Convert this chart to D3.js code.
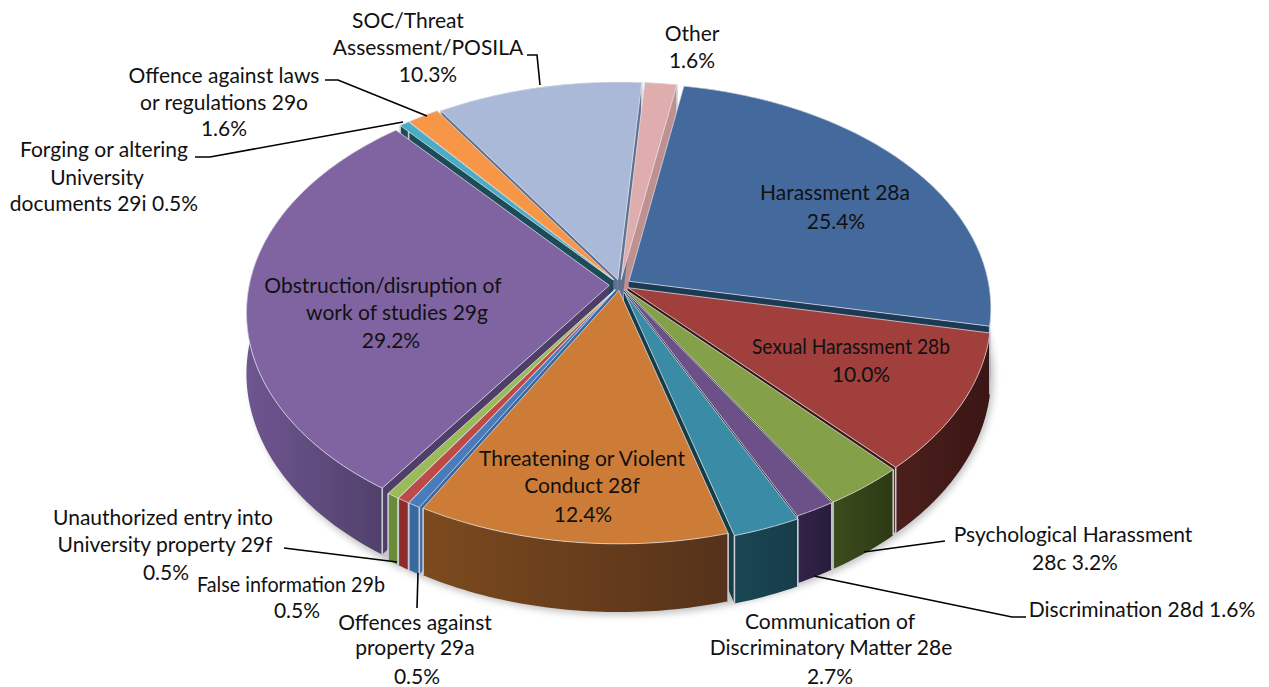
<!DOCTYPE html>
<html><head><meta charset="utf-8">
<script src="https://cdn.jsdelivr.net/npm/d3@7/dist/d3.min.js"></script>
<style>html,body{margin:0;background:#fff}svg{display:block}text{font-family:Lato,"Open Sans",sans-serif;font-size:21px;fill:#111;text-anchor:middle}</style>
</head><body><svg id="c" width="1269" height="687"></svg>
<script>
const categories=["Harassment 28a","Sexual Harassment 28b","Psychological Harassment 28c","Discrimination 28d","Communication of Discriminatory Matter 28e","Threatening or Violent Conduct 28f","Offences against property 29a","False information 29b","Unauthorized entry into University property 29f","Obstruction/disruption of work of studies 29g","Forging or altering University documents 29i","Offence against laws or regulations 29o","SOC/Threat Assessment/POSILA","Other"];
const values=[25.4,10.0,3.2,1.6,2.7,12.4,0.5,0.5,0.5,29.2,0.5,1.6,10.3,1.6];
const explodes=[0.03,0.025,0.025,0.025,0.035,0.025,0.025,0.025,0.025,0.03,0.03,0.03,0.025,0.025];
const topColors=["#44699c","#a03f3c","#84a049","#6c5088","#3a8ba6","#cc7c36","#4a7cbb","#bd4a48","#9bbb59","#8064a2","#4bacc6","#f79646","#aab9d8","#dfadad"];
const wallLeft=["#1c3a54","#4c1f1c","#3c4c1c","#32244a","#1a4654","#7c4a1e","#3a68a0","#8c2c2c","#6a8c38","#6e5690","#1c4c58","#a86428","#607090","#c09090"];
const wallRight=["#1c3a54","#3a1614","#2c3a14","#281c3a","#163c48","#55321a","#3a68a0","#8c2c2c","#6a8c38","#4e3e68","#1c4c58","#a86428","#607090","#c09090"];
const labelLines=[
["SOC/Threat",408,28],["Assessment/POSILA",428,55],["10.3%",428,82],
["Other",692,41],["1.6%",692,68],
["Harassment 28a",835,200],["25.4%",836,229],
["Sexual Harassment 28b",851,354,198],["10.0%",861,382],
["Psychological Harassment",1073,542],["28c 3.2%",1075,570],
["Discrimination 28d 1.6%",1142,617],
["Communication of",830,629],["Discriminatory Matter 28e",831,655],["2.7%",830,684],
["Offences against",415,630],["property 29a",415,655],["0.5%",417,684],
["False information 29b",291,592,188],["0.5%",297,618],
["Unauthorized entry into",163,525],["University property 29f",165,552],["0.5%",166,580],
["Threatening or Violent",582,466],["Conduct 28f",582,493],["12.4%",583,522],
["Obstruction/disruption of",383,293],["work of studies 29g",397,320],["29.2%",391,348],
["Forging or altering",104,157],["University",97,185],["documents 29i 0.5%",104,211],
["Offence against laws",224,83],["or regulations 29o",224,110],["1.6%",224,136]];
const leaders=[
[[527,55],[537,55],[540,85]],
[[325,80],[338,80],[427,116]],
[[195,157],[210,157],[403,122]],
[[284,548],[397,562]],
[[417,608],[418,573]],
[[945,541],[930,543],[864,552]],
[[1026,617],[1012,617],[814,576]]];

const svg=d3.select("#c"),defs=svg.append("defs");
const cx=620,cy=285,rx=360,ry=222,k=0.118,depth=60,startDeg=10;
const pie=d3.pie().sort(null).startAngle(startDeg*Math.PI/180).endAngle((startDeg+360)*Math.PI/180);
const arcs=pie(values);
function proj(X,Y,drop){const w=1/(1-k*Y);return [cx+rx*X*w,cy+ry*Y*w+(drop?depth*w:0)];}
function mk(d,i){const m=(d.startAngle+d.endAngle)/2,e=explodes[i],ox=e*Math.sin(m),oy=-e*Math.cos(m);
 const pt=(a,r,drop)=>proj(ox+r*Math.sin(a),oy-r*Math.cos(a),drop);
 const n=Math.max(4,Math.ceil((d.endAngle-d.startAngle)*60));
 const as=d3.range(n+1).map(j=>d.startAngle+(d.endAngle-d.startAngle)*j/n);
 return {m,oy,apex:pt(0,0,false),apexB:pt(0,0,true),top:as.map(a=>pt(a,1,false)),bot:as.map(a=>pt(a,1,true))};}
const line=d3.line();
const slices=arcs.map((d,i)=>Object.assign(mk(d,i),{i}));
const order=slices.slice().sort((a,b)=>(-Math.cos(a.m))-(-Math.cos(b.m)));

defs.append("filter").attr("id","blur").attr("x","-10%").attr("y","-10%").attr("width","120%").attr("height","120%")
 .append("feGaussianBlur").attr("stdDeviation",3.5);
const full=d3.range(0,361,3).map(a=>proj(Math.sin(a*Math.PI/180)*1.025,-Math.cos(a*Math.PI/180)*1.025,true));
svg.append("path").attr("d",line(full)+"Z").attr("fill","#999").attr("filter","url(#blur)").attr("opacity",.6).attr("transform","translate(2,3)");

slices.forEach(s=>{const g=defs.append("linearGradient").attr("id","w"+s.i).attr("gradientUnits","userSpaceOnUse")
 .attr("x1",d3.min(s.top,p=>p[0])).attr("x2",d3.max(s.top,p=>p[0])).attr("y1",0).attr("y2",0);
 g.append("stop").attr("offset",0).attr("stop-color",wallLeft[s.i]);
 g.append("stop").attr("offset",1).attr("stop-color",wallRight[s.i]);});

const walls=svg.append("g");
order.forEach(s=>{const w=walls.append("g");
 const a=s.top[0],b=s.bot[0],c=s.top[s.top.length-1],e=s.bot[s.bot.length-1];
 w.append("path").attr("d",line([s.apex,a,b,s.apexB])+"Z").attr("fill",wallRight[s.i]);
 w.append("path").attr("d",line([s.apex,c,e,s.apexB])+"Z").attr("fill",wallRight[s.i]);
 w.append("path").attr("d",line(s.top.concat(s.bot.slice().reverse()))+"Z").attr("fill",`url(#w${s.i})`);
 w.append("path").attr("d",line([a,b])).attr("stroke","#c9ccd4").attr("stroke-width",1.6).attr("fill","none");
 w.append("path").attr("d",line([c,e])).attr("stroke","#c9ccd4").attr("stroke-width",1.6).attr("fill","none");
});
svg.append("g").selectAll("path").data(slices).join("path")
 .attr("d",s=>line([s.apex].concat(s.top))+"Z")
 .attr("fill",s=>topColors[s.i]).attr("stroke","#e4e6ec").attr("stroke-opacity",.75).attr("stroke-width",1).attr("stroke-linejoin","round");

svg.append("g").selectAll("path").data(leaders).join("path").attr("d",d=>line(d)).attr("fill","none").attr("stroke","#000").attr("stroke-width",1.6);
svg.append("g").selectAll("text").data(labelLines).join("text").attr("x",d=>d[1]).attr("y",d=>d[2]).each(function(d){if(d[3])d3.select(this).attr("textLength",d[3]).attr("lengthAdjust","spacingAndGlyphs");}).text(d=>d[0]);
</script></body></html>
